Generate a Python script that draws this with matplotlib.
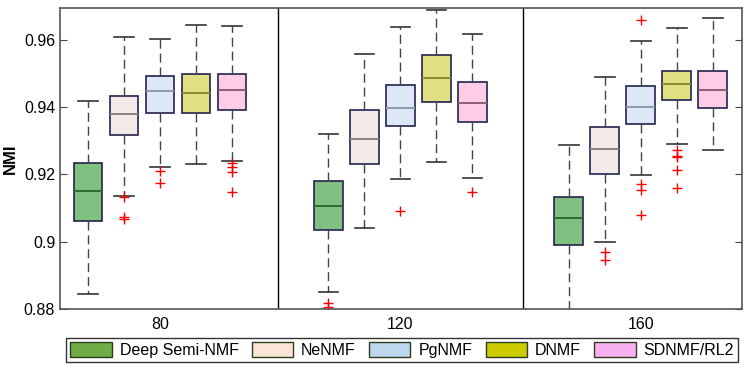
import matplotlib
matplotlib.use("Agg")
import matplotlib.pyplot as plt
import matplotlib.patches as mpatches

plt.rcParams["font.family"] = ["Liberation Sans", "DejaVu Sans"]

# --- data (NMI boxplot stats) ---
GROUPS  = ["80", "120", "160"]
METHODS = ["Deep Semi-NMF", "NeNMF", "PgNMF", "DNMF", "SDNMF/RL2"]

# per method, one value per group (80, 120, 160)
whislo = {
    "Deep Semi-NMF": [0.8846, 0.8850, 0.8780],
    "NeNMF":         [0.9135, 0.9041, 0.8998],
    "PgNMF":         [0.9223, 0.9188, 0.9199],
    "DNMF":          [0.9231, 0.9237, 0.9292],
    "SDNMF/RL2":     [0.9240, 0.9191, 0.9272],
}
q1 = {
    "Deep Semi-NMF": [0.9062, 0.9036, 0.8991],
    "NeNMF":         [0.9316, 0.9231, 0.9202],
    "PgNMF":         [0.9382, 0.9344, 0.9350],
    "DNMF":          [0.9384, 0.9416, 0.9422],
    "SDNMF/RL2":     [0.9393, 0.9355, 0.9397],
}
med = {
    "Deep Semi-NMF": [0.9150, 0.9105, 0.9071],
    "NeNMF":         [0.9380, 0.9305, 0.9277],
    "PgNMF":         [0.9449, 0.9399, 0.9400],
    "DNMF":          [0.9443, 0.9488, 0.9469],
    "SDNMF/RL2":     [0.9451, 0.9413, 0.9451],
}
q3 = {
    "Deep Semi-NMF": [0.9234, 0.9182, 0.9134],
    "NeNMF":         [0.9434, 0.9393, 0.9340],
    "PgNMF":         [0.9493, 0.9467, 0.9462],
    "DNMF":          [0.9500, 0.9554, 0.9508],
    "SDNMF/RL2":     [0.9500, 0.9474, 0.9507],
}
whishi = {
    "Deep Semi-NMF": [0.9418, 0.9321, 0.9287],
    "NeNMF":         [0.9610, 0.9557, 0.9490],
    "PgNMF":         [0.9604, 0.9638, 0.9597],
    "DNMF":          [0.9644, 0.9690, 0.9636],
    "SDNMF/RL2":     [0.9642, 0.9619, 0.9666],
}
fliers = {
    "Deep Semi-NMF": [[], [0.8819, 0.8805], []],
    "NeNMF":         [[0.9132, 0.9073, 0.9067], [], [0.8969, 0.8946]],
    "PgNMF":         [[0.9210, 0.9176], [0.9092], [0.9172, 0.9154, 0.9079, 0.9660]],
    "DNMF":          [[], [], [0.9273, 0.9255, 0.9251, 0.9212, 0.9161]],
    "SDNMF/RL2":     [[0.9233, 0.9222, 0.9206, 0.9147], [0.9149], []],
}

BOX_FILL  = {"Deep Semi-NMF": "#80C080", "NeNMF": "#F3E9E9", "PgNMF": "#DCE8F7",
             "DNMF": "#E0E080", "SDNMF/RL2": "#FFCCE5"}
MED_COL   = {"Deep Semi-NMF": "#2E6B2E", "NeNMF": "#8A8282", "PgNMF": "#8E9AAA",
             "DNMF": "#8A8A30", "SDNMF/RL2": "#8A5F75"}
LEG_FILL  = {"Deep Semi-NMF": "#70AD47", "NeNMF": "#FBE5D6", "PgNMF": "#BDD7EE",
             "DNMF": "#CCCC00", "SDNMF/RL2": "#F9B0F0"}

GROUP_STEP = 6.68

fig = plt.figure(figsize=(7.53, 3.69), dpi=100)
ax = fig.add_axes([60 / 753, 1 - 309 / 369, 682 / 753, 301 / 369])

for g in range(len(GROUPS)):
    for i, m in enumerate(METHODS):
        st = dict(whislo=whislo[m][g], q1=q1[m][g], med=med[m][g], q3=q3[m][g],
                  whishi=whishi[m][g], fliers=fliers[m][g])
        pos = 1 + i + g * GROUP_STEP
        ax.bxp([st], positions=[pos], widths=0.8, patch_artist=True,
               boxprops=dict(facecolor=BOX_FILL[m], edgecolor="#22224f", linewidth=1.2),
               medianprops=dict(color=MED_COL[m], linewidth=1.4),
               whiskerprops=dict(color="#444444", linewidth=1.0, linestyle=(0, (6.5, 3.5))),
               capprops=dict(color="#333333", linewidth=1.2),
               flierprops=dict(marker="+", markeredgecolor="red", markersize=7,
                               markeredgewidth=1.0, linestyle="none"),
               capwidths=0.55)

# group separators
for xd in [6.28, 13.08]:
    ax.axvline(xd, color="black", linewidth=1.0)

ax.set_xlim(0.22, 19.17)
ax.set_ylim(0.88, 0.9695)
ax.set_yticks([0.88, 0.90, 0.92, 0.94, 0.96])
ax.set_yticklabels(["0.88", "0.9", "0.92", "0.94", "0.96"])
ax.set_xticks([3 + g * GROUP_STEP for g in range(len(GROUPS))])
ax.set_xticklabels(GROUPS)
ax.tick_params(axis="x", length=0, labelsize=11.5, pad=6)
ax.tick_params(axis="y", direction="in", length=5, labelsize=11.5, right=True,
               color="#444444")
for s in ax.spines.values():
    s.set_color("#555555")
    s.set_linewidth(1.2)
ax.set_ylabel("NMI", fontsize=12, fontweight="bold", labelpad=4)

handles = [mpatches.Patch(facecolor=LEG_FILL[m], edgecolor="#2d3d1d", linewidth=1.0, label=m)
           for m in METHODS]
fig.legend(handles=handles, loc="lower left", ncol=5, mode="expand",
           bbox_to_anchor=(66 / 753, 1 - 362 / 369, 672 / 753, 25 / 369),
           fontsize=11.5, frameon=True, fancybox=False, edgecolor="black",
           handlelength=2.6, handleheight=1.0, handletextpad=0.5,
           columnspacing=0.6, borderpad=0.25, borderaxespad=0)
fig.savefig("out.png", dpi=100)
